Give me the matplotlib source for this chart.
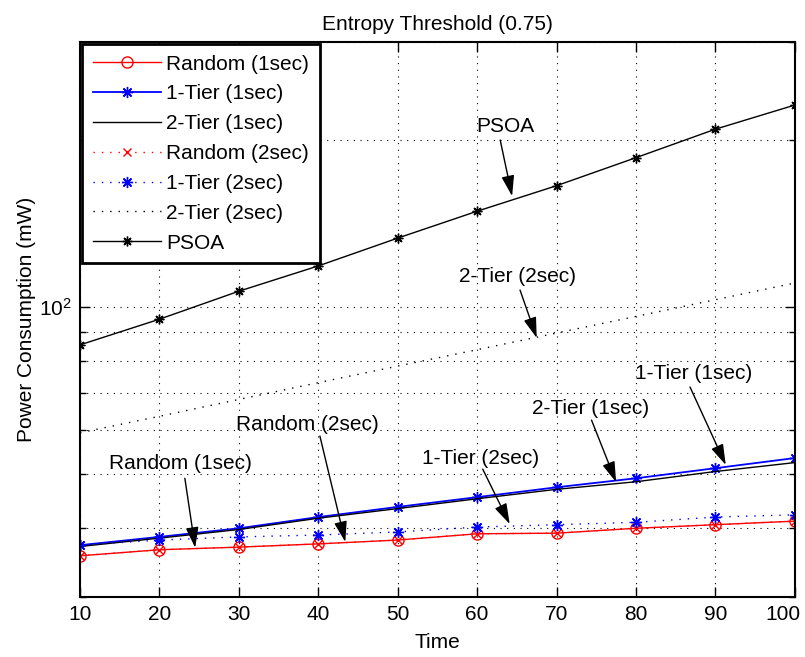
import matplotlib
matplotlib.use("Agg")
import matplotlib.pyplot as plt
from matplotlib.ticker import LogLocator, NullFormatter, FixedLocator
from matplotlib.transforms import ScaledTranslation
import numpy as np

plt.rcParams['font.family'] = ['Liberation Sans', 'DejaVu Sans']
plt.rcParams['font.size'] = 15

# Data
time = [10, 20, 30, 40, 50, 60, 70, 80, 90, 100]
random_1s = [35.6, 36.5, 36.9, 37.4, 38.0, 39.0, 39.1, 39.9, 40.5, 41.1]
tier1_1s = [37.2, 38.5, 39.9, 41.8, 43.6, 45.4, 47.3, 49.1, 51.2, 53.4]
tier2_1s = [37.0, 38.3, 39.7, 41.6, 43.3, 45.1, 46.9, 48.4, 50.5, 52.4]
random_2s = [35.6, 36.5, 36.9, 37.4, 38.0, 39.0, 39.1, 39.9, 40.5, 41.1]
tier1_2s = [37.2, 38.0, 38.5, 38.8, 39.3, 40.1, 40.5, 40.9, 41.8, 42.2]
tier2_2s = [59.3, 63.5, 68.1, 73.0, 78.2, 83.7, 89.7, 96.1, 103.0, 110.4]
psoa = [85.4, 95.0, 106.7, 118.5, 133.0, 148.7, 165.3, 185.7, 209.0, 231.0]

# annotations: label, text position, arrow tail, arrow tip (data coords)
notes = [
    ("PSOA", (63.5, 211), (62.9, 199.8), (64.4, 158.3)),
    ("2-Tier (2sec)", (65.1, 113.6), (65.4, 107.2), (67.5, 87.9)),
    ("1-Tier (1sec)", (87.2, 75.7), (86.8, 71.7), (91.3, 51.9)),
    ("2-Tier (1sec)", (74.3, 65.5), (74.4, 62.5), (77.5, 48.3)),
    ("1-Tier (2sec)", (60.4, 53.4), (60.7, 51.0), (64.1, 40.6)),
    ("Random (2sec)", (38.6, 61.5), (40.2, 58.5), (43.4, 37.7)),
    ("Random (1sec)", (22.7, 52.1), (23.2, 49.1), (24.5, 36.8)),
]

fig = plt.figure(figsize=(8.05, 6.57), dpi=100)
ax = fig.add_axes([0.0994, 0.0913, 0.888, 0.8447])

dot = (0, (1, 5))
star = (8, 2, 0)
ax.plot(time, random_1s, color='red', lw=1, marker='o', mfc='none', ms=8,
        label='Random (1sec)')
ax.plot(time, tier1_1s, color='blue', lw=1.3, marker=star, ms=8,
        label='1-Tier (1sec)')
ax.plot(time, tier2_1s, color='black', lw=1, label='2-Tier (1sec)')
ax.plot(time, random_2s, color='red', lw=1, ls=dot, marker='x', ms=6,
        label='Random (2sec)')
ax.plot(time, tier1_2s, color='blue', lw=1, ls=dot, marker=star, ms=8,
        label='1-Tier (2sec)')
ax.plot(time, tier2_2s, color='black', lw=1, ls=dot, label='2-Tier (2sec)')
ax.plot(time, psoa, color='black', lw=1, marker=star, ms=7, label='PSOA')

ax.set_yscale('log')
ax.set_xlim(10, 100)
ax.set_ylim(30, 300)
ax.set_xticks(time)
ax.yaxis.set_major_locator(FixedLocator([100]))
ax.yaxis.set_minor_locator(LogLocator(subs=np.arange(2, 10)))
ax.yaxis.set_minor_formatter(NullFormatter())

ax.grid(True, which='both', color='black', lw=0.8, ls=(0, (1, 5)))
ax.tick_params(which='both', direction='in', top=True, right=True, width=1)
ax.tick_params(which='major', length=7, labelsize=15, pad=6)
ax.tick_params(which='minor', length=4)
for s in ax.spines.values():
    s.set_linewidth(1.5)

# keep the last x tick label inside the figure, as the reference does
last = ax.get_xticklabels()[-1]
last.set_transform(last.get_transform() + ScaledTranslation(-0.12, 0, fig.dpi_scale_trans))

ax.set_title('Entropy Threshold (0.75)', fontsize=15, pad=9)
ax.set_xlabel('Time', fontsize=15, labelpad=6)
ax.set_ylabel('Power Consumption (mW)', fontsize=15, labelpad=2)

for label, txt, tail, tip in notes:
    ax.text(txt[0], txt[1], label, ha='center', va='center', fontsize=15)
    ax.annotate('', xy=tip, xytext=tail,
                arrowprops=dict(arrowstyle='-|>,head_length=0.9,head_width=0.28',
                                color='black', lw=1, shrinkA=0, shrinkB=0,
                                mutation_scale=14))

leg = ax.legend(loc='upper left', fontsize=15, frameon=True, fancybox=False,
                edgecolor='black', framealpha=1, borderaxespad=0.1,
                handlelength=3.3, handletextpad=0.25, labelspacing=0.52,
                borderpad=0.5)
leg.get_frame().set_linewidth(2)

fig.savefig('out.png', dpi=100)
